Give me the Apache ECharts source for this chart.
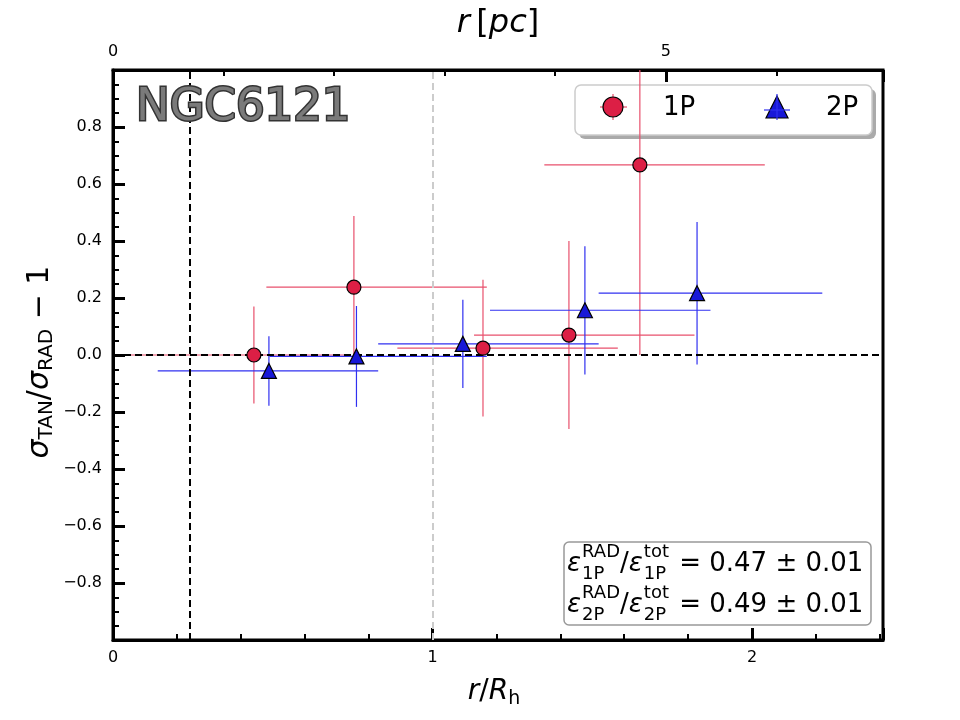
<!DOCTYPE html>
<html>
<head>
<meta charset="utf-8">
<script src="https://cdn.jsdelivr.net/npm/echarts@6/dist/echarts.min.js"></script>
<style>
  html, body { margin: 0; padding: 0; background: #fff; }
  #chart { width: 960px; height: 720px; }
</style>
</head>
<body>
<div id="chart"></div>
<script>
// 1P population: position, ratio, radial bin edges, error
const p1X = [0.441, 0.754, 1.158, 1.427, 1.649];
const p1Y = [0.0, 0.238, 0.024, 0.070, 0.667];
const p1XLow = [0.05, 0.48, 0.89, 1.13, 1.35];
const p1XHigh = [0.74, 1.17, 1.58, 1.82, 2.04];
const p1YErr = [0.17, 0.25, 0.24, 0.33, 0.667];

// 2P population
const p2X = [0.488, 0.762, 1.095, 1.477, 1.828];
const p2Y = [-0.056, -0.005, 0.039, 0.157, 0.217];
const p2XLow = [0.14, 0.49, 0.83, 1.18, 1.52];
const p2XHigh = [0.83, 1.17, 1.52, 1.87, 2.22];
const p2YErr = [0.122, 0.177, 0.155, 0.225, 0.25];

// reference lines
const vLinesBlack = [0.238];
const vLinesGrey = [1.0];
const hLines = [0.0];

// axes
const xMax = 2.41;
const rhInPc = 2.89;
const yMin = -1, yMax = 1;

const FONT = '"DejaVu Sans", sans-serif';
const RED = '#dc1f45', RED_BAR = '#e8506c';
const BLUE = '#1818d8', BLUE_BAR = '#3030f0';

const chart = echarts.init(document.getElementById('chart'), null, { renderer: 'canvas' });

const rows = (x, y, lo, hi, e) => x.map((v, i) => [v, y[i], lo[i], hi[i], e[i]]);

function errBars(color) {
  return (params, api) => {
    const x = api.value(0), y = api.value(1);
    const a = api.coord([api.value(2), y]), b = api.coord([api.value(3), y]);
    const c = api.coord([x, y - api.value(4)]), d = api.coord([x, y + api.value(4)]);
    const style = { stroke: color, lineWidth: 1.2 };
    return {
      type: 'group',
      children: [
        { type: 'line', shape: { x1: a[0], y1: a[1], x2: b[0], y2: b[1] }, style },
        { type: 'line', shape: { x1: c[0], y1: c[1], x2: d[0], y2: d[1] }, style },
      ],
    };
  };
}

// text measuring for the annotation box
const ctx = document.createElement('canvas').getContext('2d');
function tw(str, size, style) {
  ctx.font = (style || '') + ' ' + size + 'px "DejaVu Sans"';
  return ctx.measureText(str).width;
}

function ratioLine(pop, value, x0, yc) {
  const big = 26, small = 18;
  const out = [];
  let x = x0;
  const txt = (text, tx, ty, font) =>
    out.push({ type: 'text', style: { text, x: tx, y: ty, font, fill: '#000', verticalAlign: 'middle' } });
  const addFrac = (sup) => {
    txt('ε', x, yc, 'italic ' + big + 'px ' + FONT);
    x += tw('ε', big, 'italic') + 1;
    txt(sup, x, yc - 12, small + 'px ' + FONT);
    txt(pop, x, yc + 10, small + 'px ' + FONT);
    x += Math.max(tw(sup, small), tw(pop, small));
  };
  addFrac('RAD');
  txt('/', x, yc, big + 'px ' + FONT);
  x += tw('/', big);
  addFrac('tot');
  txt(' = 0.' + value + ' ± 0.01', x + 2, yc, big + 'px ' + FONT);
  return out;
}

const option = {
  backgroundColor: '#fff',
  animation: false,
  grid: { left: 113, right: 77, top: 70, bottom: 80, show: true, borderColor: '#000', borderWidth: 3 },
  xAxis: [
    {
      type: 'value', position: 'bottom', min: 0, max: xMax, interval: 1,
      axisLine: { onZero: false, lineStyle: { color: '#000', width: 3 } },
      axisTick: { inside: true, length: 12, lineStyle: { color: '#000', width: 3 } },
      minorTick: { show: true, splitNumber: 5, length: 6, lineStyle: { color: '#000', width: 2 } },
      axisLabel: { color: '#000', fontSize: 16, fontFamily: FONT, margin: 10, showMaxLabel: false, formatter: v => String(Math.round(v)) },
      splitLine: { show: false },
    },
    {
      type: 'value', position: 'top', min: 0, max: xMax * rhInPc, interval: 5,
      axisLine: { onZero: false, lineStyle: { color: '#000', width: 3 } },
      axisTick: { inside: true, length: 12, lineStyle: { color: '#000', width: 3 } },
      minorTick: { show: true, splitNumber: 5, length: 6, lineStyle: { color: '#000', width: 2 } },
      axisLabel: { color: '#000', fontSize: 16, fontFamily: FONT, margin: 10, showMaxLabel: false, formatter: v => String(Math.round(v)) },
      splitLine: { show: false },
    },
  ],
  yAxis: {
    type: 'value', min: yMin, max: yMax, interval: 0.2,
    axisLine: { onZero: false, lineStyle: { color: '#000', width: 3 } },
    axisTick: { inside: true, length: 12, lineStyle: { color: '#000', width: 3 } },
    minorTick: { show: true, splitNumber: 4, length: 6, lineStyle: { color: '#000', width: 2 } },
    axisLabel: {
      color: '#000', fontSize: 16, fontFamily: FONT, margin: 11, showMinLabel: false, showMaxLabel: false,
      formatter: v => {
        const r = Math.round(v * 10) / 10;
        return (r < 0 ? '\u2212' : '') + Math.abs(r).toFixed(1);
      },
    },
    splitLine: { show: false },
  },
  series: [
    {
      type: 'custom', name: '1P bars', clip: true, z: 2,
      renderItem: errBars(RED_BAR),
      encode: { x: 0, y: 1 },
      data: rows(p1X, p1Y, p1XLow, p1XHigh, p1YErr),
    },
    {
      type: 'custom', name: '2P bars', clip: true, z: 2,
      renderItem: errBars(BLUE_BAR),
      encode: { x: 0, y: 1 },
      data: rows(p2X, p2Y, p2XLow, p2XHigh, p2YErr),
      markLine: {
        silent: true, symbol: 'none', label: { show: false }, z: 3,
        data: [
          ...vLinesBlack.map(v => ({ xAxis: v, lineStyle: { color: '#000', width: 2, type: [7, 4] } })),
          ...vLinesGrey.map(v => ({ xAxis: v, lineStyle: { color: '#cccccc', width: 2, type: [7, 4] } })),
          ...hLines.map(v => ({ yAxis: v, lineStyle: { color: '#000', width: 2, type: [7, 4] } })),
        ],
      },
    },
    {
      type: 'scatter', name: '1P', z: 5,
      symbol: 'circle', symbolSize: 14,
      itemStyle: { color: RED, borderColor: '#000', borderWidth: 1.2, opacity: 1 },
      data: p1X.map((v, i) => [v, p1Y[i]]),
    },
    {
      type: 'scatter', name: '2P', z: 5,
      symbol: 'triangle', symbolSize: 15,
      itemStyle: { color: BLUE, borderColor: '#000', borderWidth: 1.2, opacity: 1 },
      data: p2X.map((v, i) => [v, p2Y[i]]),
    },
  ],
  graphic: [
    // cluster name
    {
      type: 'text', z: 10,
      style: { text: 'NGC6121', x: 136, y: 108, font: '45px ' + FONT, fill: '#7a7a7a', stroke: '#333', lineWidth: 3, verticalAlign: 'middle' },
    },
    // axis titles
    {
      type: 'text', z: 10,
      style: {
        text: '{i|r}{n|\u2009[}{i|pc}{n|]}', x: 498, y: 24, align: 'center', verticalAlign: 'middle',
        rich: {
          i: { fontStyle: 'italic', fontSize: 32, fontFamily: FONT },
          n: { fontSize: 32, fontFamily: FONT },
        },
        fill: '#000',
      },
    },
    {
      type: 'text', z: 10,
      style: {
        text: '{i|r}{n|/}{i|R}{s|h}', x: 494, y: 692, align: 'center', verticalAlign: 'middle',
        rich: {
          i: { fontStyle: 'italic', fontSize: 28, fontFamily: FONT },
          n: { fontSize: 28, fontFamily: FONT },
          s: { fontSize: 19, fontFamily: FONT, padding: [14, 0, 0, 0] },
        },
        fill: '#000',
      },
    },
    {
      type: 'text', z: 10, x: 40, y: 362, rotation: Math.PI / 2,
      style: {
        text: '{i|σ}{s|TAN}{n|/}{i|σ}{s|RAD}{n| \u2212 1}', x: 0, y: 0, align: 'center', verticalAlign: 'middle',
        rich: {
          i: { fontStyle: 'italic', fontSize: 30, fontFamily: FONT },
          n: { fontSize: 30, fontFamily: FONT },
          s: { fontSize: 20, fontFamily: FONT, padding: [14, 0, 0, 0] },
        },
        fill: '#000',
      },
    },
    // legend
    {
      type: 'group', z: 10,
      children: [
        { type: 'rect', shape: { x: 579, y: 89, width: 297, height: 50, r: 6 }, style: { fill: '#aaaaaa' } },
        { type: 'rect', shape: { x: 575, y: 85, width: 297, height: 50, r: 6 }, style: { fill: '#fff', stroke: '#cccccc', lineWidth: 1.5 } },
        { type: 'line', shape: { x1: 600, y1: 107, x2: 627, y2: 107 }, style: { stroke: RED_BAR, lineWidth: 1.2 } },
        { type: 'line', shape: { x1: 613, y1: 94, x2: 613, y2: 120 }, style: { stroke: RED_BAR, lineWidth: 1.2 } },
        { type: 'circle', shape: { cx: 613, cy: 107, r: 10 }, style: { fill: RED, stroke: '#000', lineWidth: 1.2 } },
        { type: 'text', style: { text: '1P', x: 663, y: 108, font: '26px ' + FONT, fill: '#000', verticalAlign: 'middle' } },
        { type: 'polygon', shape: { points: [[777, 96], [766, 118], [788, 118]] }, style: { fill: BLUE, stroke: '#000', lineWidth: 1.2 } },
        { type: 'line', shape: { x1: 764, y1: 110, x2: 790, y2: 110 }, style: { stroke: BLUE_BAR, lineWidth: 1.2 } },
        { type: 'line', shape: { x1: 777, y1: 94, x2: 777, y2: 120 }, style: { stroke: BLUE_BAR, lineWidth: 1.2 } },
        { type: 'text', style: { text: '2P', x: 826, y: 108, font: '26px ' + FONT, fill: '#000', verticalAlign: 'middle' } },
      ],
    },
    // ratio annotation
    {
      type: 'group', z: 10,
      children: [
        { type: 'rect', shape: { x: 564, y: 542, width: 307, height: 83, r: 5 }, style: { fill: 'rgba(255,255,255,0.85)', stroke: '#999', lineWidth: 1.5 } },
        ...ratioLine('1P', '47', 567, 564),
        ...ratioLine('2P', '49', 567, 605),
      ],
    },
  ],
};

chart.setOption(option);
</script>
</body>
</html>
